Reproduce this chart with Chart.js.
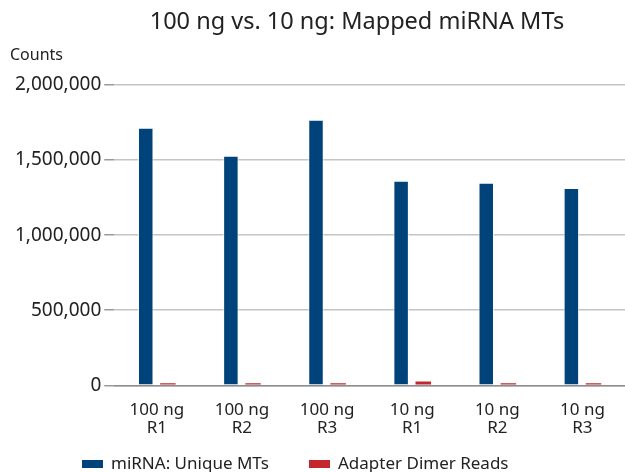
<!DOCTYPE html>
<html>
<head>
<meta charset="utf-8">
<script src="https://cdn.jsdelivr.net/npm/chart.js@4"></script>
<style>
  html, body { margin: 0; padding: 0; background: #fff; }
  #wrap { width: 625px; height: 472px; }
</style>
</head>
<body>
<div id="wrap"><canvas id="grafico"></canvas></div>
<script>
// datos
const categorias = [["100 ng", "R1"], ["100 ng", "R2"], ["100 ng", "R3"], ["10 ng", "R1"], ["10 ng", "R2"], ["10 ng", "R3"]];
const uniqueMTs = [1715000, 1528000, 1769000, 1362000, 1349000, 1314000];
const adapterDimer = [14000, 14000, 14000, 25000, 14000, 14000];
const ticksY = [0, 500000, 1000000, 1500000, 2000000];
const series = ["miRNA: Unique MTs", "Adapter Dimer Reads"];
const colores = ["#00437b", "#c1272d"];

const FUENTE = "'Noto Sans', sans-serif";

// título, "Counts" y leyenda dibujados a mano (la leyenda va medio cortada abajo)
const textos = {
  id: "textos",
  afterDraw(chart) {
    const ctx = chart.ctx;
    ctx.save();
    ctx.fillStyle = "#222";
    ctx.textBaseline = "middle";
    ctx.font = "23.5px " + FUENTE;
    ctx.textAlign = "center";
    ctx.fillText("100 ng vs. 10 ng: Mapped miRNA MTs", 357, 22);
    ctx.font = "16px " + FUENTE;
    ctx.textAlign = "left";
    ctx.fillText("Counts", 10, 55);

    // leyenda
    ctx.font = "17px " + FUENTE;
    const xs = [82, 309];
    series.forEach((nombre, i) => {
      ctx.fillStyle = colores[i];
      ctx.fillRect(xs[i], 460, 21, 8);
      ctx.fillStyle = "#222";
      ctx.fillText(nombre, xs[i] + 29, 464);
    });
    ctx.restore();
  }
};

document.addEventListener("DOMContentLoaded", () => {
  const ctx = document.getElementById("grafico").getContext("2d");
  new Chart(ctx, {
    type: "bar",
    data: {
      labels: categorias,
      datasets: [
        {
          label: series[0],
          data: uniqueMTs,
          backgroundColor: colores[0],
          borderColor: "rgba(255,255,255,0.7)",
          borderWidth: { left: 1, right: 1, top: 1, bottom: 0 },
          categoryPercentage: 0.52,
          barPercentage: 0.7
        },
        {
          label: series[1],
          data: adapterDimer,
          backgroundColor: colores[1],
          categoryPercentage: 0.52,
          barPercentage: 0.7
        }
      ]
    },
    options: {
      responsive: true,
      maintainAspectRatio: false,
      animation: false,
      layout: { padding: { top: 85, left: 12, right: 0, bottom: 27 } },
      plugins: {
        title: { display: false },
        tooltip: { enabled: false },
        legend: { display: false }
      },
      scales: {
        x: {
          grid: { display: false },
          border: { color: "#8c8c8c", width: 1.5 },
          ticks: {
            color: "#222",
            font: { family: FUENTE, size: 17, lineHeight: 1.05 },
            padding: 8,
            maxRotation: 0
          }
        },
        y: {
          min: 0,
          max: 2000000,
          afterBuildTicks: axis => { axis.ticks = ticksY.map(v => ({ value: v })); },
          border: { display: false },
          grid: { color: "#c4c4c4", lineWidth: 1.5, tickLength: 10, tickColor: "#9a9a9a" },
          ticks: {
            color: "#222",
            font: { family: FUENTE, size: 19 },
            padding: 3,
            callback: v => v.toLocaleString("en-US")
          }
        }
      }
    },
    plugins: [textos]
  });
});
</script>
</body>
</html>
